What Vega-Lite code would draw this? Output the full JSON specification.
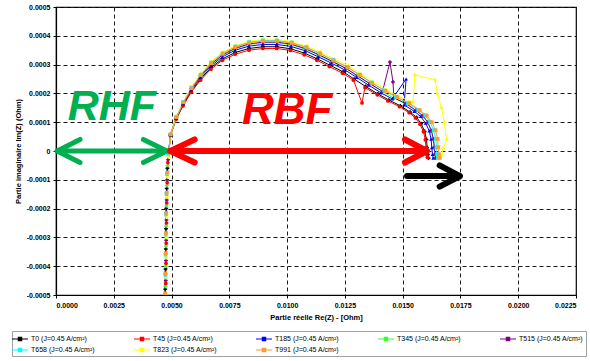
{
  "$schema": "https://vega.github.io/schema/vega-lite/v6.json",
  "width": 520,
  "height": 288,
  "autosize": "none",
  "padding": {"left": 56, "top": 7, "right": 14, "bottom": 66},
  "background": "white",
  "config": {
    "font": "Liberation Sans",
    "view": {"stroke": "#000000", "strokeWidth": 1.2, "fill": "transparent"}
  },
  "datasets": {
    "imp": [
      {"s":"T0","x":0.00473,"y":-0.00048},{"s":"T0","x":0.00474,"y":-0.00041},{"s":"T0","x":0.00475,"y":-0.00034},{"s":"T0","x":0.00476,"y":-0.00027},{"s":"T0","x":0.00477,"y":-0.00020},{"s":"T0","x":0.00479,"y":-0.00013},{"s":"T0","x":0.00482,"y":-0.00006},{"s":"T0","x":0.00489,"y":0.000002},
      {"s":"T0","x":0.00495,"y":0.000055},{"s":"T0","x":0.00520,"y":0.000112},{"s":"T0","x":0.00550,"y":0.000160},{"s":"T0","x":0.00585,"y":0.000207},{"s":"T0","x":0.00625,"y":0.000250},{"s":"T0","x":0.00670,"y":0.000289},{"s":"T0","x":0.00720,"y":0.000320},{"s":"T0","x":0.00775,"y":0.000342},{"s":"T0","x":0.00835,"y":0.000356},{"s":"T0","x":0.00895,"y":0.000362},{"s":"T0","x":0.00955,"y":0.000362},{"s":"T0","x":0.01015,"y":0.000355},{"s":"T0","x":0.01075,"y":0.000340},{"s":"T0","x":0.01130,"y":0.000320},{"s":"T0","x":0.01185,"y":0.000298},{"s":"T0","x":0.01242,"y":0.000275},{"s":"T0","x":0.01290,"y":0.000250},{"s":"T0","x":0.01340,"y":0.000224},{"s":"T0","x":0.01393,"y":0.000198},{"s":"T0","x":0.01440,"y":0.000177},{"s":"T0","x":0.01490,"y":0.000157},{"s":"T0","x":0.01532,"y":0.000135},{"s":"T0","x":0.01560,"y":0.000117},{"s":"T0","x":0.01580,"y":0.000095},{"s":"T0","x":0.01595,"y":0.000068},{"s":"T0","x":0.01603,"y":0.000040},{"s":"T0","x":0.01606,"y":0.000012},{"s":"T0","x":0.01609,"y":-0.000012},{"s":"T0","x":0.01612,"y":-0.000025},

      {"s":"T45","x":0.00475,"y":-0.00046},{"s":"T45","x":0.00476,"y":-0.00039},{"s":"T45","x":0.00477,"y":-0.00032},{"s":"T45","x":0.00478,"y":-0.00025},{"s":"T45","x":0.00479,"y":-0.00018},{"s":"T45","x":0.00481,"y":-0.00011},{"s":"T45","x":0.00484,"y":-0.00004},{"s":"T45","x":0.00490,"y":0.000005},
      {"s":"T45","x":0.00495,"y":0.000054},{"s":"T45","x":0.00520,"y":0.000110},{"s":"T45","x":0.00550,"y":0.000157},{"s":"T45","x":0.00585,"y":0.000204},{"s":"T45","x":0.00625,"y":0.000246},{"s":"T45","x":0.00670,"y":0.000284},{"s":"T45","x":0.00720,"y":0.000315},{"s":"T45","x":0.00775,"y":0.000336},{"s":"T45","x":0.00835,"y":0.000350},{"s":"T45","x":0.00895,"y":0.000356},{"s":"T45","x":0.00955,"y":0.000356},{"s":"T45","x":0.01015,"y":0.000349},{"s":"T45","x":0.01074,"y":0.000334},{"s":"T45","x":0.01129,"y":0.000315},{"s":"T45","x":0.01183,"y":0.000293},{"s":"T45","x":0.01240,"y":0.000270},{"s":"T45","x":0.01287,"y":0.000246},{"s":"T45","x":0.01324,"y":0.000167},{"s":"T45","x":0.01337,"y":0.000220},{"s":"T45","x":0.01390,"y":0.000195},{"s":"T45","x":0.01436,"y":0.000174},{"s":"T45","x":0.01486,"y":0.000154},{"s":"T45","x":0.01528,"y":0.000133},{"s":"T45","x":0.01555,"y":0.000115},{"s":"T45","x":0.01575,"y":0.000093},{"s":"T45","x":0.01590,"y":0.000067},{"s":"T45","x":0.01598,"y":0.000039},{"s":"T45","x":0.01601,"y":0.000012},{"s":"T45","x":0.01604,"y":-0.000012},{"s":"T45","x":0.01607,"y":-0.000022},

      {"s":"T185","x":0.00472,"y":-0.00049},{"s":"T185","x":0.00473,"y":-0.00042},{"s":"T185","x":0.00474,"y":-0.00035},{"s":"T185","x":0.00475,"y":-0.00028},{"s":"T185","x":0.00477,"y":-0.00021},{"s":"T185","x":0.00478,"y":-0.00014},{"s":"T185","x":0.00481,"y":-0.00007},{"s":"T185","x":0.00488,"y":0.0},
      {"s":"T185","x":0.00495,"y":0.000056},{"s":"T185","x":0.00520,"y":0.000114},{"s":"T185","x":0.00550,"y":0.000164},{"s":"T185","x":0.00585,"y":0.000212},{"s":"T185","x":0.00625,"y":0.000256},{"s":"T185","x":0.00670,"y":0.000295},{"s":"T185","x":0.00720,"y":0.000327},{"s":"T185","x":0.00775,"y":0.000350},{"s":"T185","x":0.00835,"y":0.000364},{"s":"T185","x":0.00895,"y":0.000370},{"s":"T185","x":0.00955,"y":0.000370},{"s":"T185","x":0.01017,"y":0.000363},{"s":"T185","x":0.01079,"y":0.000348},{"s":"T185","x":0.01135,"y":0.000327},{"s":"T185","x":0.01192,"y":0.000305},{"s":"T185","x":0.01251,"y":0.000281},{"s":"T185","x":0.01300,"y":0.000256},{"s":"T185","x":0.01352,"y":0.000229},{"s":"T185","x":0.01406,"y":0.000202},{"s":"T185","x":0.01455,"y":0.000181},{"s":"T185","x":0.01515,"y":0.000250},{"s":"T185","x":0.01506,"y":0.000160},{"s":"T185","x":0.01550,"y":0.000138},{"s":"T185","x":0.01578,"y":0.000120},{"s":"T185","x":0.01599,"y":0.000097},{"s":"T185","x":0.01615,"y":0.000070},{"s":"T185","x":0.01623,"y":0.000041},{"s":"T185","x":0.01626,"y":0.000012},{"s":"T185","x":0.01629,"y":-0.000012},{"s":"T185","x":0.01632,"y":-0.000025},

      {"s":"T345","x":0.00474,"y":-0.00047},{"s":"T345","x":0.00475,"y":-0.00040},{"s":"T345","x":0.00476,"y":-0.00033},{"s":"T345","x":0.00477,"y":-0.00026},{"s":"T345","x":0.00478,"y":-0.00019},{"s":"T345","x":0.00480,"y":-0.00012},{"s":"T345","x":0.00483,"y":-0.00005},{"s":"T345","x":0.00489,"y":0.000004},
      {"s":"T345","x":0.00496,"y":0.000057},{"s":"T345","x":0.00521,"y":0.000116},{"s":"T345","x":0.00551,"y":0.000166},{"s":"T345","x":0.00586,"y":0.000215},{"s":"T345","x":0.00626,"y":0.000260},{"s":"T345","x":0.00671,"y":0.000300},{"s":"T345","x":0.00721,"y":0.000332},{"s":"T345","x":0.00776,"y":0.000355},{"s":"T345","x":0.00836,"y":0.000370},{"s":"T345","x":0.00896,"y":0.000376},{"s":"T345","x":0.00956,"y":0.000376},{"s":"T345","x":0.01018,"y":0.000369},{"s":"T345","x":0.01081,"y":0.000353},{"s":"T345","x":0.01138,"y":0.000332},{"s":"T345","x":0.01196,"y":0.000309},{"s":"T345","x":0.01255,"y":0.000286},{"s":"T345","x":0.01305,"y":0.000260},{"s":"T345","x":0.01358,"y":0.000233},{"s":"T345","x":0.01413,"y":0.000206},{"s":"T345","x":0.01462,"y":0.000184},{"s":"T345","x":0.01515,"y":0.000163},{"s":"T345","x":0.01558,"y":0.000140},{"s":"T345","x":0.01588,"y":0.000122},{"s":"T345","x":0.01609,"y":0.000099},{"s":"T345","x":0.01624,"y":0.000071},{"s":"T345","x":0.01633,"y":0.000042},{"s":"T345","x":0.01636,"y":0.000012},{"s":"T345","x":0.01639,"y":-0.000012},{"s":"T345","x":0.01642,"y":-0.000025},

      {"s":"T515","x":0.00475,"y":-0.00045},{"s":"T515","x":0.00476,"y":-0.00038},{"s":"T515","x":0.00477,"y":-0.00031},{"s":"T515","x":0.00478,"y":-0.00024},{"s":"T515","x":0.00479,"y":-0.00017},{"s":"T515","x":0.00481,"y":-0.00010},{"s":"T515","x":0.00485,"y":-0.00003},
      {"s":"T515","x":0.00495,"y":0.000058},{"s":"T515","x":0.00521,"y":0.000117},{"s":"T515","x":0.00551,"y":0.000167},{"s":"T515","x":0.00586,"y":0.000216},{"s":"T515","x":0.00626,"y":0.000261},{"s":"T515","x":0.00671,"y":0.000302},{"s":"T515","x":0.00721,"y":0.000334},{"s":"T515","x":0.00776,"y":0.000357},{"s":"T515","x":0.00836,"y":0.000372},{"s":"T515","x":0.00896,"y":0.000378},{"s":"T515","x":0.00956,"y":0.000378},{"s":"T515","x":0.01018,"y":0.000371},{"s":"T515","x":0.01081,"y":0.000355},{"s":"T515","x":0.01138,"y":0.000334},{"s":"T515","x":0.01196,"y":0.000311},{"s":"T515","x":0.01255,"y":0.000287},{"s":"T515","x":0.01305,"y":0.000261},{"s":"T515","x":0.01358,"y":0.000234},{"s":"T515","x":0.01413,"y":0.000207},{"s":"T515","x":0.01445,"y":0.000309},{"s":"T515","x":0.01458,"y":0.000240},{"s":"T515","x":0.01462,"y":0.000185},{"s":"T515","x":0.01515,"y":0.000164},{"s":"T515","x":0.01558,"y":0.000141},{"s":"T515","x":0.01588,"y":0.000122},{"s":"T515","x":0.01609,"y":0.000099},{"s":"T515","x":0.01624,"y":0.000071},{"s":"T515","x":0.01633,"y":0.000042},{"s":"T515","x":0.01637,"y":0.000013},{"s":"T515","x":0.01640,"y":-0.000011},{"s":"T515","x":0.01643,"y":-0.000024},

      {"s":"T658","x":0.00472,"y":-0.00050},{"s":"T658","x":0.00473,"y":-0.00043},{"s":"T658","x":0.00474,"y":-0.00036},{"s":"T658","x":0.00475,"y":-0.00029},{"s":"T658","x":0.00476,"y":-0.00022},{"s":"T658","x":0.00478,"y":-0.00015},{"s":"T658","x":0.00480,"y":-0.00008},{"s":"T658","x":0.00486,"y":-0.00001},
      {"s":"T658","x":0.00496,"y":0.000058},{"s":"T658","x":0.00521,"y":0.000119},{"s":"T658","x":0.00551,"y":0.000170},{"s":"T658","x":0.00586,"y":0.000220},{"s":"T658","x":0.00626,"y":0.000265},{"s":"T658","x":0.00671,"y":0.000307},{"s":"T658","x":0.00721,"y":0.000339},{"s":"T658","x":0.00776,"y":0.000363},{"s":"T658","x":0.00836,"y":0.000378},{"s":"T658","x":0.00896,"y":0.000384},{"s":"T658","x":0.00956,"y":0.000384},{"s":"T658","x":0.01019,"y":0.000377},{"s":"T658","x":0.01083,"y":0.000361},{"s":"T658","x":0.01141,"y":0.000339},{"s":"T658","x":0.01199,"y":0.000316},{"s":"T658","x":0.01260,"y":0.000292},{"s":"T658","x":0.01311,"y":0.000265},{"s":"T658","x":0.01364,"y":0.000238},{"s":"T658","x":0.01420,"y":0.000210},{"s":"T658","x":0.01470,"y":0.000188},{"s":"T658","x":0.01523,"y":0.000166},{"s":"T658","x":0.01567,"y":0.000143},{"s":"T658","x":0.01597,"y":0.000124},{"s":"T658","x":0.01618,"y":0.000101},{"s":"T658","x":0.01634,"y":0.000072},{"s":"T658","x":0.01643,"y":0.000042},{"s":"T658","x":0.01646,"y":0.000013},{"s":"T658","x":0.01649,"y":-0.000011},{"s":"T658","x":0.01652,"y":-0.000024},

      {"s":"T823","x":0.00476,"y":-0.00044},{"s":"T823","x":0.00477,"y":-0.00037},{"s":"T823","x":0.00478,"y":-0.00030},{"s":"T823","x":0.00479,"y":-0.00023},{"s":"T823","x":0.00480,"y":-0.00016},{"s":"T823","x":0.00482,"y":-0.00009},{"s":"T823","x":0.00486,"y":-0.00002},
      {"s":"T823","x":0.00496,"y":0.000059},{"s":"T823","x":0.00521,"y":0.000120},{"s":"T823","x":0.00551,"y":0.000171},{"s":"T823","x":0.00586,"y":0.000222},{"s":"T823","x":0.00626,"y":0.000268},{"s":"T823","x":0.00671,"y":0.000310},{"s":"T823","x":0.00721,"y":0.000343},{"s":"T823","x":0.00776,"y":0.000366},{"s":"T823","x":0.00836,"y":0.000381},{"s":"T823","x":0.00896,"y":0.000388},{"s":"T823","x":0.00956,"y":0.000388},{"s":"T823","x":0.01020,"y":0.000380},{"s":"T823","x":0.01085,"y":0.000364},{"s":"T823","x":0.01145,"y":0.000343},{"s":"T823","x":0.01205,"y":0.000319},{"s":"T823","x":0.01266,"y":0.000295},{"s":"T823","x":0.01318,"y":0.000268},{"s":"T823","x":0.01372,"y":0.000240},{"s":"T823","x":0.01430,"y":0.000212},{"s":"T823","x":0.01481,"y":0.000190},{"s":"T823","x":0.01545,"y":0.000170},{"s":"T823","x":0.01553,"y":0.000264},{"s":"T823","x":0.01640,"y":0.000247},{"s":"T823","x":0.01650,"y":0.000200},{"s":"T823","x":0.01668,"y":0.000150},{"s":"T823","x":0.01680,"y":0.000100},{"s":"T823","x":0.01690,"y":0.000040},{"s":"T823","x":0.01675,"y":0.000008},{"s":"T823","x":0.01668,"y":-0.000014},{"s":"T823","x":0.01662,"y":-0.000024},

      {"s":"T991","x":0.00473,"y":-0.000495},{"s":"T991","x":0.00474,"y":-0.000425},{"s":"T991","x":0.00475,"y":-0.000355},{"s":"T991","x":0.00476,"y":-0.000285},{"s":"T991","x":0.00477,"y":-0.000215},{"s":"T991","x":0.00479,"y":-0.000145},{"s":"T991","x":0.00482,"y":-0.000075},{"s":"T991","x":0.00488,"y":-0.000005},
      {"s":"T991","x":0.00496,"y":0.000058},{"s":"T991","x":0.00521,"y":0.000118},{"s":"T991","x":0.00551,"y":0.000169},{"s":"T991","x":0.00586,"y":0.000218},{"s":"T991","x":0.00626,"y":0.000264},{"s":"T991","x":0.00671,"y":0.000305},{"s":"T991","x":0.00721,"y":0.000338},{"s":"T991","x":0.00776,"y":0.000361},{"s":"T991","x":0.00836,"y":0.000376},{"s":"T991","x":0.00896,"y":0.000382},{"s":"T991","x":0.00956,"y":0.000382},{"s":"T991","x":0.01020,"y":0.000375},{"s":"T991","x":0.01084,"y":0.000359},{"s":"T991","x":0.01143,"y":0.000338},{"s":"T991","x":0.01202,"y":0.000314},{"s":"T991","x":0.01263,"y":0.000290},{"s":"T991","x":0.01315,"y":0.000264},{"s":"T991","x":0.01368,"y":0.000236},{"s":"T991","x":0.01425,"y":0.000209},{"s":"T991","x":0.01476,"y":0.000187},{"s":"T991","x":0.01529,"y":0.000166},{"s":"T991","x":0.01574,"y":0.000142},{"s":"T991","x":0.01604,"y":0.000123},{"s":"T991","x":0.01626,"y":0.000100},{"s":"T991","x":0.01642,"y":0.000072},{"s":"T991","x":0.01651,"y":0.000042},{"s":"T991","x":0.01654,"y":0.000013},{"s":"T991","x":0.01657,"y":-0.000011},{"s":"T991","x":0.01660,"y":-0.000024}
    ],
    "rhf": [
      {"part":"shaft","x":0.00005,"y":0},{"part":"shaft","x":0.00478,"y":0},
      {"part":"left","x":0.00104,"y":0.00004},{"part":"left","x":0.00005,"y":0},{"part":"left","x":0.00104,"y":-0.00004},
      {"part":"right","x":0.00378,"y":0.00004},{"part":"right","x":0.00480,"y":0},{"part":"right","x":0.00378,"y":-0.00004}
    ],
    "rbf": [
      {"part":"shaft","x":0.00495,"y":0},{"part":"shaft","x":0.01600,"y":0},
      {"part":"left","x":0.00600,"y":0.00004},{"part":"left","x":0.00495,"y":0},{"part":"left","x":0.00600,"y":-0.00004},
      {"part":"right","x":0.01510,"y":0.00004},{"part":"right","x":0.01605,"y":0},{"part":"right","x":0.01510,"y":-0.00004}
    ],
    "lf": [
      {"part":"shaft","x":0.01519,"y":-0.000087},{"part":"shaft","x":0.01745,"y":-0.000087},
      {"part":"head","x":0.01660,"y":-0.000050},{"part":"head","x":0.01748,"y":-0.000087},{"part":"head","x":0.01660,"y":-0.000124}
    ]
  },
  "encoding": {
    "x": {
      "field": "x", "type": "quantitative",
      "scale": {"domain": [0, 0.0225], "nice": false, "zero": false},
      "axis": {
        "grid": true, "gridColor": "#1a1a1a", "gridDash": [4, 3], "gridWidth": 1, "gridOpacity": 1, "zindex": 0,
        "values": [0, 0.0025, 0.005, 0.0075, 0.01, 0.0125, 0.015, 0.0175, 0.02, 0.0225],
        "format": ".4f", "labelOverlap": false,
        "labelFont": "Liberation Sans", "labelFontWeight": "bold", "labelFontSize": 7, "labelColor": "#000000", "labelPadding": 3,
        "domainColor": "#000000", "domainWidth": 1.2, "ticks": true, "tickColor": "#000000", "tickSize": 3, "tickWidth": 1,
        "title": "Partie réelle Re(Z) - [Ohm]",
        "titleFont": "Liberation Sans", "titleFontWeight": "bold", "titleFontSize": 7.5, "titleColor": "#000000", "titlePadding": 5
      }
    },
    "y": {
      "field": "y", "type": "quantitative",
      "scale": {"domain": [-0.0005, 0.0005], "nice": false, "zero": false},
      "axis": {
        "grid": true, "gridColor": "#1a1a1a", "gridDash": [4, 3], "gridWidth": 1, "gridOpacity": 1, "zindex": 0,
        "values": [-0.0005, -0.0004, -0.0003, -0.0002, -0.0001, 0, 0.0001, 0.0002, 0.0003, 0.0004, 0.0005],
        "labelExpr": "datum.value == 0 ? '0' : replace(format(datum.value, '.4f'), '\u2212', '-')",
        "labelOverlap": false,
        "labelFont": "Liberation Sans", "labelFontWeight": "bold", "labelFontSize": 7, "labelColor": "#000000", "labelPadding": 3,
        "domainColor": "#000000", "domainWidth": 1.2, "ticks": true, "tickColor": "#000000", "tickSize": 3, "tickWidth": 1,
        "title": "Partie imaginaire Im(Z) (Ohm)",
        "titleFont": "Liberation Sans", "titleFontWeight": "bold", "titleFontSize": 7.5, "titleColor": "#000000", "titlePadding": 4
      }
    }
  },
  "layer": [
    {
      "data": {"name": "imp"},
      "mark": {"type": "line", "strokeWidth": 1, "clip": true},
      "encoding": {
        "color": {
          "field": "s", "type": "nominal",
          "scale": {
            "domain": ["T0", "T45", "T185", "T345", "T515", "T658", "T823", "T991"],
            "range": ["#000000", "#ff0000", "#0000ff", "#33ff33", "#800080", "#00ffff", "#ffff00", "#ff9933"]
          },
          "legend": {
            "orient": "none", "legendX": -44, "legendY": 324, "direction": "horizontal",
            "columns": 5, "title": null,
            "labelExpr": "datum.label + ' (J=0.45 A/cm²)'",
            "labelFont": "Liberation Sans", "labelFontSize": 7, "labelColor": "#000000",
            "symbolType": "M-1.6,-0.12H1.6V0.12H-1.6Z M-0.45,-0.45H0.45V0.45H-0.45Z",
            "symbolSize": 100, "symbolStrokeWidth": 0, "labelOffset": 6,
            "columnPadding": 39, "rowPadding": 3, "padding": 3,
            "strokeColor": "#a0a0a0", "fillColor": "#ffffff",
            "encode": {"symbols": {"update": {
              "fill": {"scale": "color", "field": "value"},
              "fillOpacity": {"value": 1}
            }}}
          }
        },
        "order": {"value": null}
      }
    },
    {
      "data": {"name": "imp"},
      "transform": [{"filter": {"field": "s", "oneOf": ["T0", "T345", "T515", "T823"]}}],
      "mark": {"type": "point", "shape": "cross", "filled": true, "size": 14, "opacity": 1, "clip": true},
      "encoding": {"color": {"field": "s", "type": "nominal"}}
    },
    {
      "data": {"name": "imp"},
      "transform": [{"filter": {"field": "s", "equal": "T45"}}],
      "mark": {"type": "point", "shape": "circle", "filled": true, "size": 14, "opacity": 1, "clip": true},
      "encoding": {"color": {"field": "s", "type": "nominal"}}
    },
    {
      "data": {"name": "imp"},
      "transform": [{"filter": {"field": "s", "equal": "T185"}}],
      "mark": {"type": "point", "shape": "triangle-up", "filled": true, "size": 14, "opacity": 1, "clip": true},
      "encoding": {"color": {"field": "s", "type": "nominal"}}
    },
    {
      "data": {"name": "imp"},
      "transform": [{"filter": {"field": "s", "oneOf": ["T658", "T991"]}}],
      "mark": {"type": "point", "shape": "square", "filled": true, "size": 14, "opacity": 1, "clip": true},
      "encoding": {"color": {"field": "s", "type": "nominal"}}
    },
    {
      "data": {"name": "rhf"},
      "mark": {"type": "line", "color": "#00b050", "strokeWidth": 5, "strokeCap": "round", "strokeJoin": "round"},
      "encoding": {"detail": {"field": "part"}, "order": {"value": null}}
    },
    {
      "data": {"name": "rbf"},
      "mark": {"type": "line", "color": "#ff0000", "strokeWidth": 6, "strokeCap": "round", "strokeJoin": "round"},
      "encoding": {"detail": {"field": "part"}, "order": {"value": null}}
    },
    {
      "data": {"name": "lf"},
      "mark": {"type": "line", "color": "#000000", "strokeWidth": 6, "strokeCap": "round", "strokeJoin": "round"},
      "encoding": {"detail": {"field": "part"}, "order": {"value": null}}
    },
    {
      "data": {"values": [{"t": "RHF", "x": 0.00242, "y": 0.000153}]},
      "mark": {"type": "text", "color": "#00b050", "font": "Liberation Sans", "fontWeight": "bold", "fontStyle": "italic", "fontSize": 43, "align": "center", "baseline": "middle"},
      "encoding": {"text": {"field": "t"}}
    },
    {
      "data": {"values": [{"t": "RBF", "x": 0.0100, "y": 0.000139}]},
      "mark": {"type": "text", "color": "#ff0000", "font": "Liberation Sans", "fontWeight": "bold", "fontStyle": "italic", "fontSize": 44, "align": "center", "baseline": "middle"},
      "encoding": {"text": {"field": "t"}}
    }
  ]
}
